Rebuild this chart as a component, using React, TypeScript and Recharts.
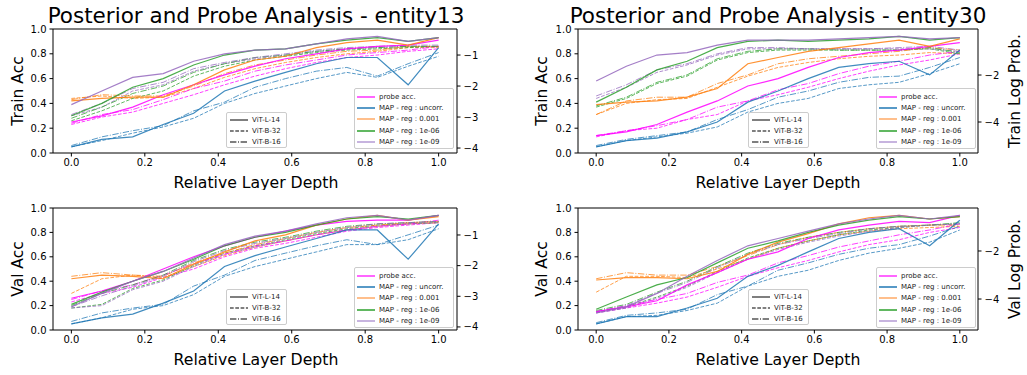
import React from 'react';
import { LineChart, Line, XAxis, YAxis, ReferenceLine } from 'recharts';

// layer depth of each probed layer (0 .. 12/12)
const depth = [0, 0.083, 0.167, 0.25, 0.333, 0.417, 0.5, 0.583, 0.667, 0.75, 0.833, 0.917, 1];

const seriesNames = ['probe acc.', 'MAP - reg : uncorr.', 'MAP - reg : 0.001', 'MAP - reg : 1e-06', 'MAP - reg : 1e-09'];
const seriesColors = ['#ff00ff', '#1f77b4', '#ff7f0e', '#2ca02c', '#9467bd'];
const legendColors = ['#ff33ff', '#1f77b4', '#ffaa66', '#2ca02c', '#b49bd4'];
const modelNames = ['ViT-L-14', 'ViT-B-32', 'ViT-B-16'];
const modelDash = [undefined, '3.7 1.6', '6.4 1.6 1 1.6'];

const xTicks = [0, 0.2, 0.4, 0.6, 0.8, 1.0];
const accTicks = [0, 0.2, 0.4, 0.6, 0.8, 1.0];

// each array: [ViT-L-14, ViT-B-32, ViT-B-16]
const e13TrainProbe = [
  [0.25, 0.30, 0.37, 0.47, 0.55, 0.63, 0.70, 0.76, 0.80, 0.84, 0.86, 0.87, 0.91],
  [0.23, 0.29, 0.33, 0.40, 0.47, 0.55, 0.62, 0.68, 0.73, 0.77, 0.79, 0.82, 0.84],
  [0.24, 0.31, 0.35, 0.43, 0.52, 0.58, 0.66, 0.71, 0.75, 0.79, 0.81, 0.83, 0.86],
];
const e13TrainUncorr = [
  [0.05, 0.11, 0.13, 0.23, 0.32, 0.50, 0.58, 0.65, 0.72, 0.77, 0.77, 0.55, 0.85],
  [0.05, 0.10, 0.16, 0.21, 0.28, 0.40, 0.48, 0.54, 0.60, 0.65, 0.61, 0.70, 0.78],
  [0.06, 0.13, 0.18, 0.22, 0.34, 0.41, 0.53, 0.60, 0.66, 0.69, 0.62, 0.72, 0.81],
];
const e13TrainReg3 = [
  [0.42, 0.44, 0.45, 0.45, 0.55, 0.67, 0.75, 0.78, 0.85, 0.89, 0.91, 0.87, 0.93],
  [0.44, 0.46, 0.44, 0.45, 0.52, 0.61, 0.68, 0.73, 0.77, 0.80, 0.82, 0.85, 0.85],
  [0.43, 0.47, 0.46, 0.46, 0.54, 0.64, 0.71, 0.75, 0.79, 0.82, 0.83, 0.86, 0.86],
];
const e13TrainReg6 = [
  [0.30, 0.40, 0.53, 0.60, 0.71, 0.79, 0.83, 0.84, 0.88, 0.91, 0.93, 0.90, 0.93],
  [0.26, 0.34, 0.44, 0.50, 0.62, 0.70, 0.75, 0.78, 0.81, 0.83, 0.84, 0.85, 0.86],
  [0.28, 0.37, 0.48, 0.54, 0.65, 0.72, 0.77, 0.79, 0.82, 0.84, 0.85, 0.86, 0.86],
];
const e13TrainReg9 = [
  [0.39, 0.50, 0.61, 0.64, 0.74, 0.80, 0.83, 0.84, 0.88, 0.92, 0.94, 0.90, 0.93],
  [0.30, 0.37, 0.50, 0.55, 0.66, 0.72, 0.76, 0.79, 0.82, 0.84, 0.85, 0.86, 0.86],
  [0.31, 0.40, 0.52, 0.57, 0.68, 0.73, 0.77, 0.80, 0.83, 0.85, 0.86, 0.87, 0.87],
];

const e30TrainProbe = [
  [0.14, 0.17, 0.23, 0.33, 0.42, 0.54, 0.60, 0.69, 0.77, 0.81, 0.83, 0.86, 0.89],
  [0.13, 0.18, 0.20, 0.27, 0.31, 0.42, 0.47, 0.53, 0.60, 0.66, 0.71, 0.75, 0.80],
  [0.14, 0.18, 0.22, 0.27, 0.37, 0.42, 0.51, 0.56, 0.64, 0.70, 0.74, 0.79, 0.82],
];
const e30TrainUncorr = [
  [0.05, 0.10, 0.12, 0.17, 0.25, 0.41, 0.50, 0.60, 0.69, 0.72, 0.74, 0.63, 0.83],
  [0.05, 0.10, 0.13, 0.16, 0.21, 0.33, 0.40, 0.44, 0.52, 0.55, 0.57, 0.64, 0.72],
  [0.06, 0.11, 0.14, 0.17, 0.27, 0.35, 0.45, 0.50, 0.57, 0.61, 0.62, 0.69, 0.77],
];
const e30TrainReg3 = [
  [0.39, 0.41, 0.42, 0.45, 0.52, 0.72, 0.77, 0.82, 0.85, 0.88, 0.91, 0.86, 0.92],
  [0.31, 0.40, 0.43, 0.44, 0.53, 0.62, 0.69, 0.73, 0.76, 0.78, 0.79, 0.81, 0.80],
  [0.31, 0.42, 0.45, 0.45, 0.56, 0.63, 0.72, 0.76, 0.78, 0.80, 0.82, 0.85, 0.83],
];
const e30TrainReg6 = [
  [0.41, 0.53, 0.67, 0.74, 0.85, 0.90, 0.91, 0.90, 0.91, 0.92, 0.94, 0.91, 0.93],
  [0.37, 0.44, 0.56, 0.62, 0.75, 0.81, 0.83, 0.83, 0.83, 0.83, 0.83, 0.84, 0.80],
  [0.38, 0.45, 0.57, 0.63, 0.76, 0.82, 0.84, 0.84, 0.83, 0.83, 0.83, 0.85, 0.81],
];
const e30TrainReg9 = [
  [0.58, 0.70, 0.79, 0.81, 0.87, 0.91, 0.91, 0.91, 0.92, 0.93, 0.94, 0.92, 0.93],
  [0.44, 0.53, 0.65, 0.71, 0.79, 0.84, 0.84, 0.84, 0.84, 0.84, 0.84, 0.84, 0.82],
  [0.46, 0.55, 0.67, 0.72, 0.80, 0.85, 0.85, 0.84, 0.84, 0.84, 0.85, 0.86, 0.83],
];

const e13ValProbe = [
  [0.26, 0.32, 0.40, 0.50, 0.60, 0.69, 0.76, 0.81, 0.86, 0.89, 0.90, 0.90, 0.94],
  [0.23, 0.30, 0.35, 0.43, 0.50, 0.60, 0.67, 0.71, 0.76, 0.81, 0.84, 0.86, 0.88],
  [0.25, 0.32, 0.37, 0.45, 0.54, 0.62, 0.69, 0.73, 0.78, 0.82, 0.85, 0.87, 0.90],
];
const e13ValUncorr = [
  [0.05, 0.10, 0.13, 0.22, 0.32, 0.52, 0.61, 0.68, 0.75, 0.82, 0.82, 0.58, 0.87],
  [0.05, 0.10, 0.17, 0.20, 0.29, 0.44, 0.52, 0.58, 0.64, 0.70, 0.70, 0.74, 0.83],
  [0.07, 0.14, 0.18, 0.21, 0.36, 0.45, 0.57, 0.63, 0.69, 0.74, 0.70, 0.78, 0.86],
];
const e13ValReg3 = [
  [0.42, 0.45, 0.44, 0.42, 0.54, 0.64, 0.73, 0.78, 0.86, 0.91, 0.94, 0.90, 0.93],
  [0.30, 0.42, 0.45, 0.43, 0.52, 0.61, 0.68, 0.73, 0.78, 0.82, 0.85, 0.87, 0.88],
  [0.44, 0.47, 0.45, 0.44, 0.55, 0.63, 0.70, 0.75, 0.80, 0.84, 0.86, 0.88, 0.89],
];
const e13ValReg6 = [
  [0.21, 0.31, 0.40, 0.48, 0.58, 0.69, 0.76, 0.80, 0.86, 0.91, 0.93, 0.91, 0.94],
  [0.18, 0.21, 0.34, 0.41, 0.53, 0.63, 0.69, 0.74, 0.79, 0.83, 0.86, 0.87, 0.88],
  [0.20, 0.30, 0.37, 0.45, 0.57, 0.66, 0.72, 0.76, 0.81, 0.85, 0.87, 0.88, 0.89],
];
const e13ValReg9 = [
  [0.19, 0.30, 0.40, 0.48, 0.59, 0.70, 0.77, 0.81, 0.87, 0.92, 0.94, 0.90, 0.94],
  [0.18, 0.20, 0.33, 0.40, 0.52, 0.62, 0.68, 0.73, 0.78, 0.82, 0.85, 0.87, 0.88],
  [0.19, 0.28, 0.36, 0.44, 0.56, 0.65, 0.71, 0.75, 0.80, 0.84, 0.87, 0.88, 0.89],
];

const e30ValProbe = [
  [0.15, 0.19, 0.24, 0.37, 0.47, 0.58, 0.64, 0.75, 0.82, 0.86, 0.89, 0.88, 0.94],
  [0.14, 0.18, 0.22, 0.27, 0.35, 0.44, 0.51, 0.57, 0.64, 0.70, 0.74, 0.80, 0.84],
  [0.15, 0.20, 0.25, 0.30, 0.39, 0.45, 0.55, 0.61, 0.68, 0.73, 0.78, 0.82, 0.87],
];
const e30ValUncorr = [
  [0.05, 0.11, 0.11, 0.18, 0.26, 0.44, 0.53, 0.64, 0.75, 0.80, 0.83, 0.69, 0.90],
  [0.05, 0.11, 0.12, 0.16, 0.22, 0.36, 0.44, 0.49, 0.57, 0.63, 0.67, 0.72, 0.82],
  [0.06, 0.12, 0.14, 0.17, 0.29, 0.36, 0.49, 0.55, 0.62, 0.67, 0.70, 0.77, 0.85],
];
const e30ValReg3 = [
  [0.41, 0.43, 0.43, 0.42, 0.48, 0.62, 0.72, 0.79, 0.87, 0.92, 0.94, 0.91, 0.93],
  [0.31, 0.44, 0.44, 0.43, 0.50, 0.58, 0.67, 0.73, 0.78, 0.81, 0.83, 0.84, 0.85],
  [0.42, 0.47, 0.45, 0.45, 0.52, 0.61, 0.70, 0.76, 0.80, 0.83, 0.85, 0.86, 0.86],
];
const e30ValReg6 = [
  [0.17, 0.27, 0.37, 0.43, 0.55, 0.67, 0.73, 0.80, 0.86, 0.90, 0.93, 0.91, 0.93],
  [0.15, 0.19, 0.27, 0.36, 0.48, 0.59, 0.67, 0.73, 0.78, 0.82, 0.84, 0.86, 0.87],
  [0.16, 0.21, 0.31, 0.40, 0.52, 0.63, 0.71, 0.76, 0.80, 0.83, 0.85, 0.86, 0.88],
];
const e30ValReg9 = [
  [0.14, 0.19, 0.30, 0.44, 0.57, 0.69, 0.75, 0.81, 0.87, 0.91, 0.94, 0.91, 0.94],
  [0.14, 0.18, 0.26, 0.35, 0.47, 0.58, 0.66, 0.72, 0.77, 0.81, 0.84, 0.86, 0.87],
  [0.15, 0.20, 0.30, 0.39, 0.51, 0.62, 0.70, 0.75, 0.79, 0.83, 0.85, 0.86, 0.87],
];

const font = '"DejaVu Sans", sans-serif';
const minus = (v: number) => String(v).replace('-', '\u2212');

// left-hand panels have their right-axis label hidden under the right-hand panel, as in the figure
const panels = [
  {
    title: 'Posterior and Probe Analysis - entity13', yLabel: 'Train Acc', rLabel: '',
    series: [e13TrainProbe, e13TrainUncorr, e13TrainReg3, e13TrainReg6, e13TrainReg9],
    rDomain: [-4.16, -0.16], rTicks: [-4, -3, -2, -1],
    left: 0, top: 0, width: 503, height: 190, yW: 53, rW: 46, mTop: 29, xH: 37,
    center: 256, yLabelX: 18, rLabelX: 0, styleLeg: [226, 112], colorLeg: [354, 88],
  },
  {
    title: 'Posterior and Probe Analysis - entity30', yLabel: 'Train Acc', rLabel: 'Train Log Prob.',
    series: [e30TrainProbe, e30TrainUncorr, e30TrainReg3, e30TrainReg6, e30TrainReg9],
    rDomain: [-5.32, -0.04], rTicks: [-4, -2],
    left: 503, top: 0, width: 524, height: 190, yW: 75, rW: 49, mTop: 29, xH: 37,
    center: 275, yLabelX: 39, rLabelX: 512, styleLeg: [245, 112], colorLeg: [373, 88],
  },
  {
    title: '', yLabel: 'Val Acc', rLabel: '',
    series: [e13ValProbe, e13ValUncorr, e13ValReg3, e13ValReg6, e13ValReg9],
    rDomain: [-4.1, -0.12], rTicks: [-4, -3, -2, -1],
    left: 0, top: 190, width: 503, height: 185, yW: 53, rW: 46, mTop: 18, xH: 45,
    center: 256, yLabelX: 18, rLabelX: 0, styleLeg: [226, 99], colorLeg: [354, 77],
  },
  {
    title: '', yLabel: 'Val Acc', rLabel: 'Val Log Prob.',
    series: [e30ValProbe, e30ValUncorr, e30ValReg3, e30ValReg6, e30ValReg9],
    rDomain: [-5.29, -0.21], rTicks: [-4, -2],
    left: 503, top: 190, width: 524, height: 185, yW: 75, rW: 49, mTop: 18, xH: 45,
    center: 275, yLabelX: 39, rLabelX: 512, styleLeg: [245, 99], colorLeg: [373, 77],
  },
];

const legendBox: React.CSSProperties = {
  position: 'absolute', background: 'rgba(255,255,255,0.85)', border: '1px solid #cccccc',
  borderRadius: 2, fontFamily: font, fontSize: 7, color: '#222', boxSizing: 'border-box',
};

function LegendRow({ color, dash, label, lineW }: { color: string; dash?: string; label: string; lineW: number }) {
  return (
    <div style={{ display: 'flex', alignItems: 'center', height: 11.3, whiteSpace: 'nowrap' }}>
      <svg width={18} height={4} style={{ marginRight: 4 }}>
        <line x1={0} y1={2} x2={18} y2={2} stroke={color} strokeWidth={lineW} strokeDasharray={dash} />
      </svg>
      {label}
    </div>
  );
}

function Panel({ p }: { p: (typeof panels)[number] }) {
  const plotBottom = p.height - p.xH;
  const plotMid = (p.mTop + plotBottom) / 2;
  const rotated = (x: number): React.CSSProperties => ({
    position: 'absolute', left: x, top: plotMid, transform: 'translate(-50%, -50%) rotate(-90deg)',
    whiteSpace: 'nowrap', fontFamily: font, fontSize: 15.5, color: '#000',
  });
  const tick = { fill: '#000', fontSize: 10, fontFamily: font };
  return (
    <div style={{ position: 'absolute', left: p.left, top: p.top, width: p.width, height: p.height, overflow: 'hidden', background: '#fff' }}>
      <LineChart width={p.width} height={p.height} margin={{ top: p.mTop, right: 0, bottom: 0, left: 0 }}>
        <XAxis type="number" dataKey="x" domain={[-0.05, 1.05]} ticks={xTicks} tickFormatter={(v: number) => v.toFixed(1)}
          height={p.xH} tickSize={3.5} tickMargin={2} stroke="#000" tick={tick} />
        <YAxis yAxisId="acc" type="number" domain={[0, 1]} ticks={accTicks} tickFormatter={(v: number) => v.toFixed(1)}
          width={p.yW} tickSize={3.5} tickMargin={3} stroke="#000" tick={tick} />
        <YAxis yAxisId="lp" orientation="right" type="number" domain={p.rDomain} ticks={p.rTicks} allowDataOverflow
          tickFormatter={minus} width={p.rW} tickSize={3.5} tickMargin={3} stroke="#000" tick={tick} />
        <ReferenceLine yAxisId="acc" y={1} stroke="#000" />
        {[1, 2, 0].map((m) =>
          p.series.map((arr, c) => (
            <Line key={`${m}-${c}`} yAxisId="acc" data={depth.map((x, i) => ({ x, y: arr[m][i] }))} dataKey="y"
              stroke={seriesColors[c]} strokeOpacity={m === 0 ? 0.85 : 0.75} strokeWidth={m === 0 ? 1.2 : 1}
              strokeDasharray={modelDash[m]} dot={false} activeDot={false} isAnimationActive={false} />
          ))
        )}
      </LineChart>
      {p.title && (
        <div style={{ position: 'absolute', left: p.center, top: 15, transform: 'translate(-50%, -50%)', whiteSpace: 'nowrap', fontFamily: font, fontSize: 21.5, color: '#000' }}>
          {p.title}
        </div>
      )}
      <div style={{ position: 'absolute', left: p.center, top: plotBottom + 29, transform: 'translate(-50%, -50%)', whiteSpace: 'nowrap', fontFamily: font, fontSize: 15.7, color: '#000' }}>
        Relative Layer Depth
      </div>
      <div style={rotated(p.yLabelX)}>{p.yLabel}</div>
      {p.rLabel && <div style={rotated(p.rLabelX)}>{p.rLabel}</div>}
      <div style={{ ...legendBox, left: p.styleLeg[0], top: p.styleLeg[1], width: 61, height: 36, padding: '1px 3px' }}>
        {modelNames.map((n, m) => (
          <LegendRow key={n} color="#555" dash={modelDash[m]} label={n} lineW={1.5} />
        ))}
      </div>
      <div style={{ ...legendBox, left: p.colorLeg[0], top: p.colorLeg[1], width: 100, height: 61, padding: '2px 2px' }}>
        {seriesNames.map((n, c) => (
          <LegendRow key={n} color={legendColors[c]} label={n} lineW={1.5} />
        ))}
      </div>
    </div>
  );
}

export default function App() {
  return (
    <div style={{ position: 'absolute', left: 0, top: 0, width: 1027, height: 375, background: '#fff', overflow: 'hidden' }}>
      {panels.map((p, i) => (
        <Panel key={i} p={p} />
      ))}
    </div>
  );
}
